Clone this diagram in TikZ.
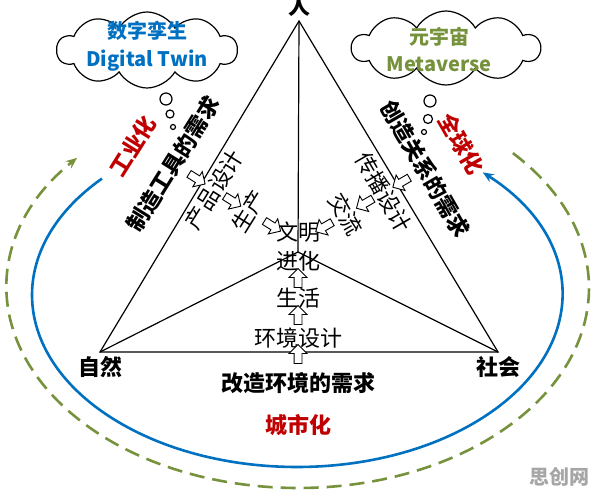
\documentclass[tikz,border=0pt]{standalone}
\usepackage{fontspec}
\newfontfamily\cjk{Noto Sans CJK SC}
\usetikzlibrary{arrows.meta, shapes.arrows, shapes.symbols}

\definecolor{twinblue}{RGB}{0,112,192}
\definecolor{metagreen}{RGB}{118,146,60}
\definecolor{trendred}{RGB}{192,0,0}

\begin{document}
\begin{tikzpicture}[x=1pt, y=1pt,
    every node/.style={inner sep=0pt},
    needtext/.style={font=\cjk\bfseries\fontsize{22}{26}\selectfont},
    designtext/.style={font=\cjk\fontsize{22}{29}\selectfont, align=center},
    trendtext/.style={font=\cjk\bfseries\fontsize{22}{26}\selectfont, text=trendred},
    hollow/.style={single arrow, draw, fill=white, line width=0.9pt,
        inner xsep=6pt, inner ysep=3.5pt, single arrow head extend=5pt,
        minimum height=19pt, minimum width=17pt},
    bubble/.style={circle, draw, line width=1.2pt},
    thought/.style={cloud, draw, line width=1.2pt, cloud puffs=10,
        cloud puff arc=120, aspect=2.4},
    >={Stealth[length=11pt,width=9pt]}  % arrowheads of the two loops
]
    \useasboundingbox (0,0) rectangle (596,496);

    % loops round the triangle
    \begin{scope}[shift={(297,201)}]
        \coordinate (bluestart) at (137.4:265 and 172);
        \draw[twinblue, line width=2.6pt, ->] (bluestart)
            arc[start angle=137.4, end angle=405.5, x radius=265, y radius=172];
    \end{scope}
    \begin{scope}[shift={(298,208)}]
        \coordinate (greenstart) at (42.4:291 and 200);
        \draw[metagreen, line width=2.6pt, dash pattern=on 15pt off 8pt, ->] (greenstart)
            arc[start angle=42.4, end angle=-220.6, x radius=291, y radius=200];
    \end{scope}

    % triangle
    \coordinate (A) at (299,475);
    \coordinate (L) at (100,144);
    \coordinate (R) at (498,144);
    \coordinate (O) at (298,244);
    \draw[line width=1.2pt] (L) -- (A) -- (R) -- cycle;
    \draw[line width=1.2pt] (L) -- (O) -- (R);
    \draw[line width=1.2pt] (A) -- (O);

    \node[needtext] (ren) at (299,490) {人};
    \node[needtext] (ziran) at (100,129) {自然};
    \node[needtext] (shehui) at (498,129) {社会};

    % middle branch
    \node[designtext] (wenming) at (298,249) {文明\\进化};
    \node[hollow, rotate=90] (ma1) at (298,216) {};
    \node[designtext] (shenghuo) at (298,198) {生活};
    \node[hollow, rotate=90] (ma2) at (298,179) {};
    \node[designtext] (huanjing) at (298,158) {环境设计};
    \node[hollow, rotate=90] (ma3) at (298,140) {};
    \node[needtext] (gaizao) at (298,113) {改造环境的需求};

    % side branches
    \begin{scope}[shift={(298,254)}]
        \node[designtext, rotate=58] (shengchan) at (148:58) {生产};
        \node[designtext, rotate=58] (chanpin) at (148:99) {产品设计};
        \node[needtext, rotate=58] (zhizao) at (148:147) {制造工具的需求};
        \foreach \d in {32,79,121}
            \node[hollow, rotate=-32] (la\d) at (148:\d) {};

        \node[designtext, rotate=-60] (jiaoliu) at (30:55) {交流};
        \node[designtext, rotate=-60] (chuanbo) at (30:99) {传播设计};
        \node[needtext, rotate=-60] (chuangzao) at (30:147) {创造关系的需求};
        \foreach \d in {32,79,121}
            \node[hollow, rotate=210] (ra\d) at (30:\d) {};
    \end{scope}

    % trends
    \node[trendtext, rotate=58] (gongye) at (133,350) {工业化};
    \node[trendtext, rotate=-60] (quanqiu) at (461,352) {全球化};
    \node[trendtext] (chengshi) at (298,71) {城市化};

    % thought clouds
    \node[thought, minimum width=180pt, minimum height=76pt] (twincloud) at (147,446) {};
    \node[font=\cjk\bfseries\fontsize{20}{28}\selectfont, text=twinblue, align=center]
        (twin) at (147,450) {数字孪生\\Digital Twin};
    \node[bubble, minimum size=12pt] (tb1) at (166,397) {};
    \node[bubble, minimum size=8pt] (tb2) at (170,382) {};
    \node[bubble, minimum size=5pt] (tb3) at (173,369) {};

    \node[thought, minimum width=188pt, minimum height=74pt] (metacloud) at (446,448) {};
    \node[font=\cjk\bfseries\fontsize{20}{27}\selectfont, text=metagreen, align=center]
        (meta) at (439,447) {元宇宙\\Metaverse};
    \node[bubble, minimum size=12pt] (mb1) at (430,395) {};
    \node[bubble, minimum size=9pt] (mb2) at (428,377) {};
    \node[bubble, minimum size=5pt] (mb3) at (424,364) {};

    \node[font=\cjk\bfseries\fontsize{20}{24}\selectfont, text=black!35] (mark) at (559,19) {思创网};
\end{tikzpicture}
\end{document}
